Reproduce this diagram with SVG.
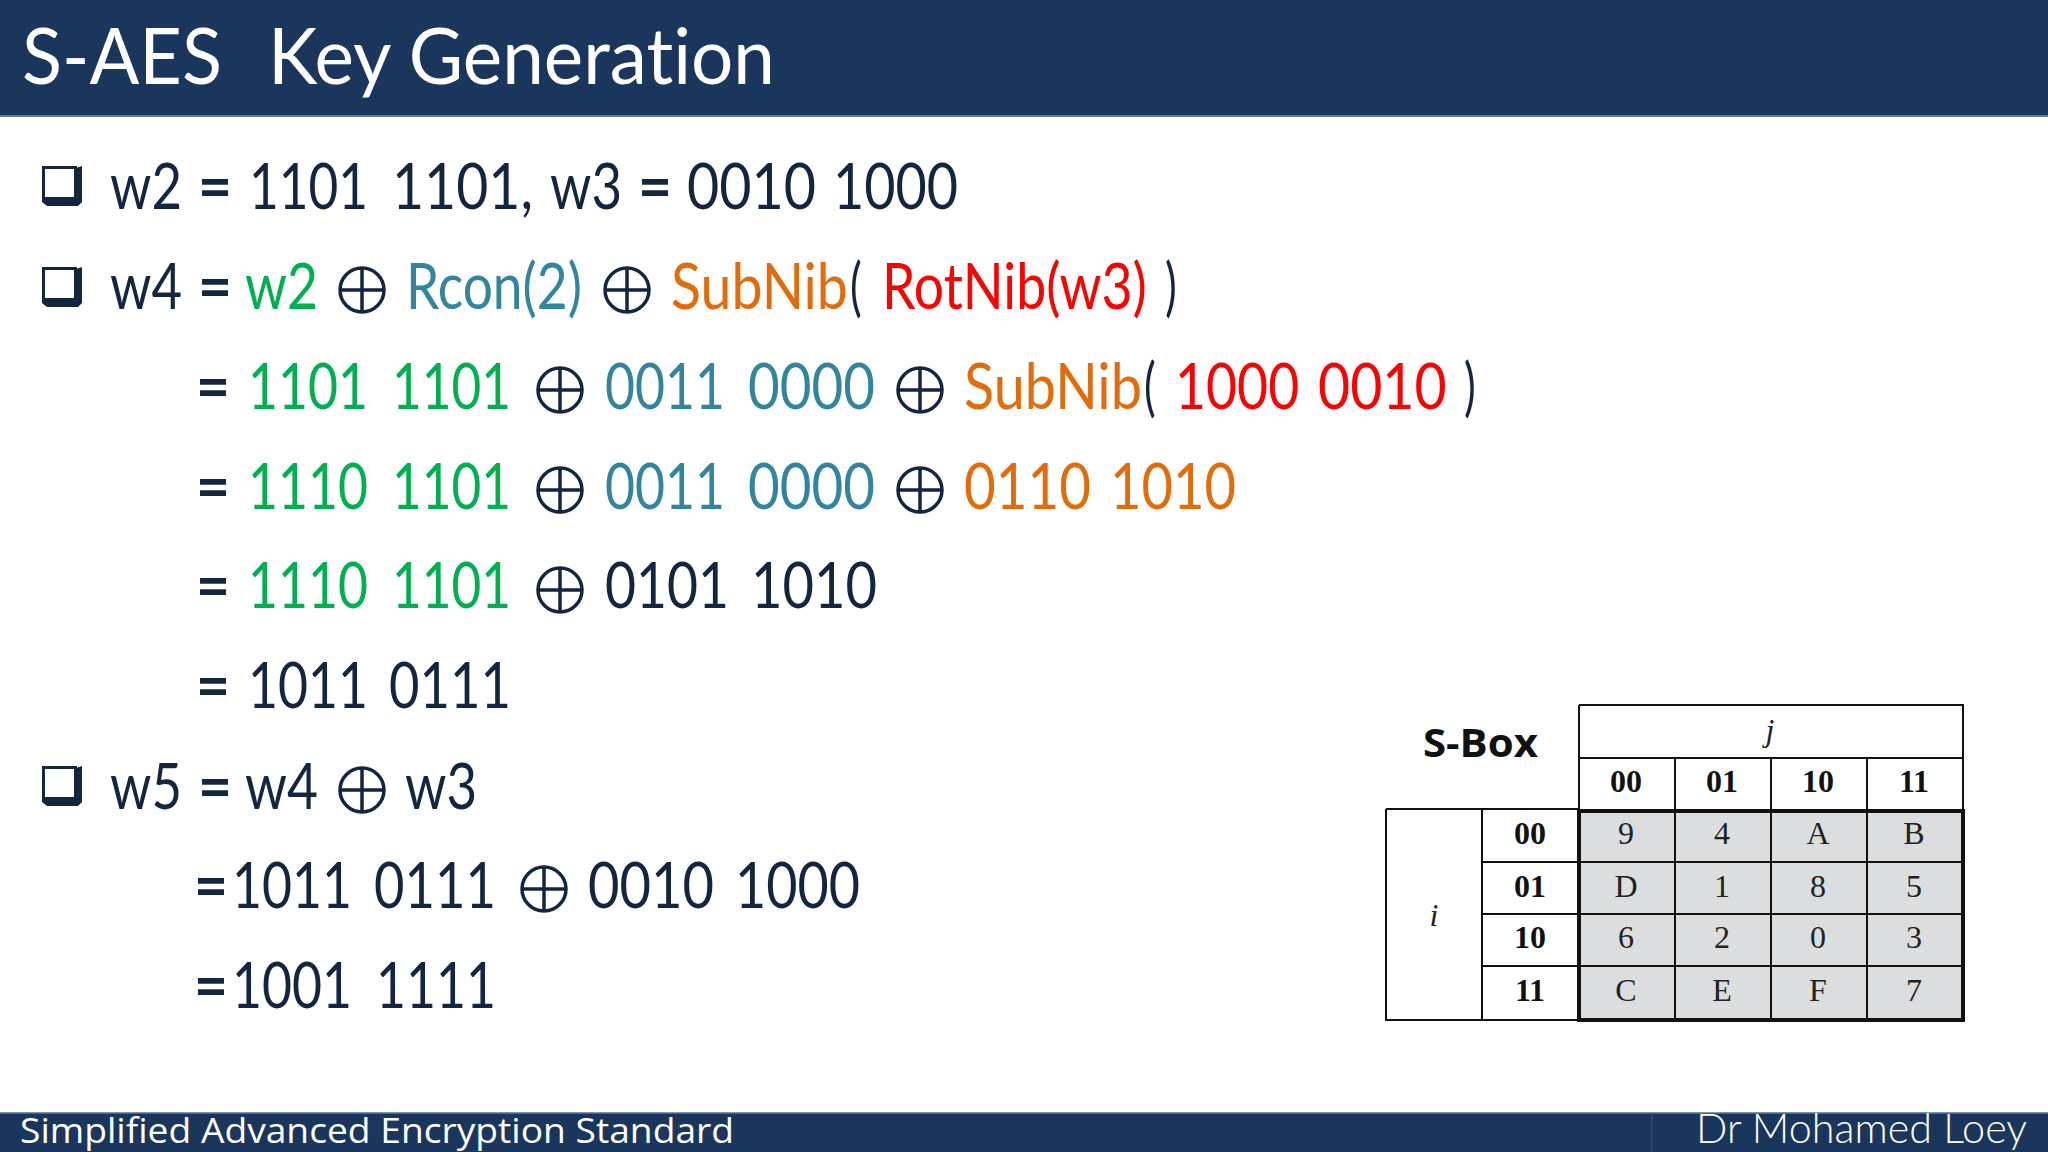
<svg xmlns="http://www.w3.org/2000/svg" width="2048" height="1152" viewBox="0 0 2048 1152">
<style>
text{font-variant-ligatures:none}
.t{font-family:Lato,"Liberation Sans",sans-serif;font-size:63px;fill:#14263f}
.e{font-weight:bold}
.g{fill:#00b050}.b{fill:#31859c}.o{fill:#e36c0a}.r{fill:#ff0000}.k{fill:#14263f}
.x{fill:none;stroke:#14263f;stroke-width:3.5}
.h{font-family:"Liberation Serif",serif;font-size:32px;font-weight:bold;fill:#111;text-anchor:middle}
.c{font-family:"Liberation Serif",serif;font-size:32px;fill:#222;text-anchor:middle}
.l{stroke:#111;stroke-width:2;fill:none}
</style>
<defs>
<g id="bul"><rect x="1.5" y="1.5" width="32" height="31" fill="#fff" stroke="#14263f" stroke-width="3"/><path d="M0 32H34V2L40 0V36L36 40H5L0 36Z" fill="#14263f"/></g>
<g id="xor"><circle r="22" class="x"/><path d="M-22 0H22M0-22V22" class="x"/></g>
</defs>
<rect width="2048" height="1152" fill="#fff"/>
<g id="header"><rect width="2048" height="117" fill="#1b365d"/><rect y="115" width="2048" height="2" fill="#5f7a96"/>
<text x="22" y="84" font-family="Lato,sans-serif" font-size="78" fill="#fff" textLength="200" lengthAdjust="spacingAndGlyphs">S-AES</text>
<text x="268" y="84" font-family="Lato,sans-serif" font-size="78" fill="#fff" textLength="507" lengthAdjust="spacingAndGlyphs">Key Generation</text></g>
<g id="footer"><rect y="1112" width="2048" height="40" fill="#1b365d"/><rect y="1112" width="2048" height="1.5" fill="#7d93aa"/><rect x="1651" y="1113" width="1.5" height="39" fill="#2e4a70"/>
<text x="20" y="1143" font-family="'Open Sans',sans-serif" font-size="35" fill="#fff" textLength="714" lengthAdjust="spacingAndGlyphs">Simplified Advanced Encryption Standard</text>
<text x="1696" y="1143" font-family="Lato,sans-serif" font-weight="300" font-size="42" fill="#fff" textLength="331" lengthAdjust="spacingAndGlyphs">Dr Mohamed Loey</text></g>
<g id="bullets"><use href="#bul" x="42" y="166"/><use href="#bul" x="42" y="267"/><use href="#bul" x="42" y="766"/></g>
<g id="line1">
<text class="t" x="110" y="209" textLength="72" lengthAdjust="spacingAndGlyphs">w2</text><text class="t e" x="198" y="209" textLength="34" lengthAdjust="spacingAndGlyphs">=</text><text class="t" x="249" y="209" textLength="119" lengthAdjust="spacingAndGlyphs">1101</text><text class="t" x="392" y="209" textLength="141" lengthAdjust="spacingAndGlyphs">1101,</text><text class="t" x="550" y="209" textLength="72" lengthAdjust="spacingAndGlyphs">w3</text><text class="t e" x="638" y="209" textLength="34" lengthAdjust="spacingAndGlyphs">=</text><text class="t" x="687" y="209" textLength="129" lengthAdjust="spacingAndGlyphs">0010</text><text class="t" x="833" y="209" textLength="125" lengthAdjust="spacingAndGlyphs">1000</text></g>
<g id="line2">
<text class="t" x="110" y="309" textLength="72" lengthAdjust="spacingAndGlyphs">w4</text><text class="t e" x="198" y="309" textLength="34" lengthAdjust="spacingAndGlyphs">=</text><text class="t g" x="245" y="309" textLength="73" lengthAdjust="spacingAndGlyphs">w2</text><use href="#xor" x="362" y="290"/><text class="t b" x="406" y="309" textLength="176" lengthAdjust="spacingAndGlyphs">Rcon(2)</text><use href="#xor" x="627" y="290"/>
<text class="t o" transform="translate(671 309) scale(.88 1)">SubNib</text><text class="t" transform="translate(850 309) scale(.7 1)">(</text><text class="t r" transform="translate(882 309) scale(.85 1)">RotNib(w3)</text><text class="t" transform="translate(1165 309) scale(.7 1)">)</text></g>
<g id="line3">
<text class="t e" x="196" y="409" textLength="34" lengthAdjust="spacingAndGlyphs">=</text><text class="t g" x="248" y="409" textLength="120" lengthAdjust="spacingAndGlyphs">1101</text><text class="t g" x="392" y="409" textLength="119" lengthAdjust="spacingAndGlyphs">1101</text><use href="#xor" x="560" y="390"/><text class="t b" x="605" y="409" textLength="120" lengthAdjust="spacingAndGlyphs">0011</text><text class="t b" x="748" y="409" textLength="127" lengthAdjust="spacingAndGlyphs">0000</text><use href="#xor" x="920" y="390"/>
<text class="t o" transform="translate(964 409) scale(.885 1)">SubNib</text><text class="t" transform="translate(1144 409) scale(.7 1)">(</text><text class="t r" transform="translate(1175 409) scale(.85 1)">1000</text><text class="t r" transform="translate(1318 409) scale(.88 1)">0010</text><text class="t" transform="translate(1464 409) scale(.7 1)">)</text></g>
<g id="line4">
<text class="t e" x="196" y="509" textLength="34" lengthAdjust="spacingAndGlyphs">=</text><text class="t g" x="248" y="509" textLength="120" lengthAdjust="spacingAndGlyphs">1110</text><text class="t g" x="392" y="509" textLength="119" lengthAdjust="spacingAndGlyphs">1101</text><use href="#xor" x="560" y="490"/><text class="t b" x="605" y="509" textLength="120" lengthAdjust="spacingAndGlyphs">0011</text><text class="t b" x="748" y="509" textLength="127" lengthAdjust="spacingAndGlyphs">0000</text><use href="#xor" x="920" y="490"/><text class="t o" x="964" y="509" textLength="127" lengthAdjust="spacingAndGlyphs">0110</text><text class="t o" x="1110" y="509" textLength="126" lengthAdjust="spacingAndGlyphs">1010</text></g>
<g id="line5">
<text class="t e" x="196" y="608" textLength="34" lengthAdjust="spacingAndGlyphs">=</text><text class="t g" x="248" y="608" textLength="120" lengthAdjust="spacingAndGlyphs">1110</text><text class="t g" x="392" y="608" textLength="119" lengthAdjust="spacingAndGlyphs">1101</text><use href="#xor" x="560" y="590"/><text class="t" x="605" y="608" textLength="124" lengthAdjust="spacingAndGlyphs">0101</text><text class="t" x="751" y="608" textLength="126" lengthAdjust="spacingAndGlyphs">1010</text></g>
<g id="line6">
<text class="t e" x="196" y="708" textLength="34" lengthAdjust="spacingAndGlyphs">=</text><text class="t" x="248" y="708" textLength="120" lengthAdjust="spacingAndGlyphs">1011</text><text class="t" x="389" y="708" textLength="122" lengthAdjust="spacingAndGlyphs">0111</text></g>
<g id="line7">
<text class="t" x="110" y="809" textLength="72" lengthAdjust="spacingAndGlyphs">w5</text><text class="t e" x="198" y="809" textLength="34" lengthAdjust="spacingAndGlyphs">=</text><text class="t" x="245" y="809" textLength="73" lengthAdjust="spacingAndGlyphs">w4</text><use href="#xor" x="362" y="790"/><text class="t" x="405" y="809" textLength="72" lengthAdjust="spacingAndGlyphs">w3</text></g>
<g id="line8">
<text class="t e" x="194" y="908" textLength="34" lengthAdjust="spacingAndGlyphs">=</text><text class="t" x="232" y="908" textLength="120" lengthAdjust="spacingAndGlyphs">1011</text><text class="t" x="374" y="908" textLength="122" lengthAdjust="spacingAndGlyphs">0111</text><use href="#xor" x="544" y="889"/><text class="t" x="588" y="908" textLength="126" lengthAdjust="spacingAndGlyphs">0010</text><text class="t" x="735" y="908" textLength="125" lengthAdjust="spacingAndGlyphs">1000</text></g>
<g id="line9">
<text class="t e" x="194" y="1008" textLength="34" lengthAdjust="spacingAndGlyphs">=</text><text class="t" x="232" y="1008" textLength="120" lengthAdjust="spacingAndGlyphs">1001</text><text class="t" x="376" y="1008" textLength="120" lengthAdjust="spacingAndGlyphs">1111</text></g>
<g id="sbox">
<text x="1423" y="757" font-family="'Open Sans',sans-serif" font-weight="bold" font-size="39" fill="#111" textLength="115" lengthAdjust="spacingAndGlyphs">S-Box</text>
<rect x="1578" y="810" width="385" height="209" fill="#dcdddf"/>
<path class="l" d="M1579 705H1963V810M1579 705V810M1579 758H1963M1675 758V810M1771 758V810M1867 758V810M1386 809H1578M1386 809V1020H1578M1482 809V1020M1482 862H1963M1482 914H1963M1482 966H1963M1675 810V1019M1771 810V1019M1867 810V1019"/>
<rect x="1579" y="811" width="384" height="209" fill="none" stroke="#111" stroke-width="4"/>
<text x="1770" y="741" class="c" font-style="italic">j</text><text x="1434" y="926" class="c" font-style="italic">i</text>
<text class="h" x="1626" y="792">00</text><text class="h" x="1722" y="792">01</text><text class="h" x="1818" y="792">10</text><text class="h" x="1914" y="792">11</text>
<text class="h" x="1530" y="844">00</text><text class="h" x="1530" y="897">01</text><text class="h" x="1530" y="948">10</text><text class="h" x="1530" y="1001">11</text>
<text class="c" x="1626" y="844">9</text><text class="c" x="1722" y="844">4</text><text class="c" x="1818" y="844">A</text><text class="c" x="1914" y="844">B</text>
<text class="c" x="1626" y="897">D</text><text class="c" x="1722" y="897">1</text><text class="c" x="1818" y="897">8</text><text class="c" x="1914" y="897">5</text>
<text class="c" x="1626" y="948">6</text><text class="c" x="1722" y="948">2</text><text class="c" x="1818" y="948">0</text><text class="c" x="1914" y="948">3</text>
<text class="c" x="1626" y="1001">C</text><text class="c" x="1722" y="1001">E</text><text class="c" x="1818" y="1001">F</text><text class="c" x="1914" y="1001">7</text>
</g>
</svg>
